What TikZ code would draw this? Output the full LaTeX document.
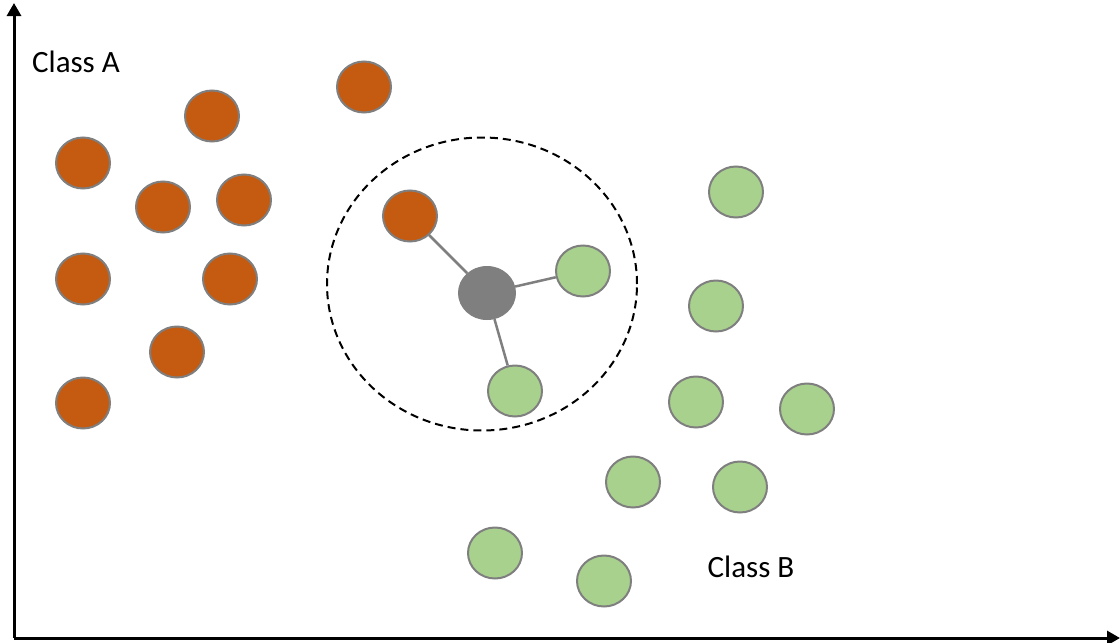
\documentclass[tikz,border=0pt]{standalone}
\usepackage{fontspec}
\setmainfont{Carlito}
\usetikzlibrary{arrows.meta,shapes.geometric}
\definecolor{clsA}{HTML}{C55A11}
\definecolor{clsB}{HTML}{A9D18E}
\definecolor{rim}{HTML}{7F7F7F}
\begin{document}
\begin{tikzpicture}[x=1pt,y=-1pt,
  pt/.style={ellipse,draw=rim,line width=2pt,minimum width=54pt,minimum height=51pt,inner sep=0pt},
  ptA/.style={pt,fill=clsA},
  ptB/.style={pt,fill=clsB},
  query/.style={ellipse,fill=rim,draw=rim,line width=1pt,minimum width=57pt,minimum height=53pt,inner sep=0pt},
  link/.style={draw=rim,line width=2.5pt},
  axis/.style={line width=3pt,-{Triangle[length=13pt,width=14pt]}},
  lbl/.style={font=\fontsize{31}{37}\selectfont,inner sep=0pt}]
\useasboundingbox (0,0) rectangle (1120,643);
% axes
\coordinate (o) at (14,638);
\coordinate (ytip) at (14,3);
\coordinate (xtip) at (1120,638);
\draw[axis] (o) -- (ytip);
\draw[axis] (o) -- (xtip);
% neighbourhood of the query point
\node[ellipse,draw,dashed,line width=2pt,dash pattern=on 8pt off 5pt,minimum width=310pt,minimum height=293pt] (hood) at (482,284) {};
% class A
\node[ptA] (a1) at (364,87) {};
\node[ptA] (a2) at (212,116) {};
\node[ptA] (a3) at (83,163) {};
\node[ptA] (a4) at (163,207) {};
\node[ptA] (a5) at (244,200) {};
\node[ptA] (a6) at (83,279) {};
\node[ptA] (a7) at (230,279) {};
\node[ptA] (a8) at (177,352) {};
\node[ptA] (a9) at (83,403) {};
\node[ptA] (a10) at (410,216) {};
% class B
\node[ptB] (b1) at (583,271) {};
\node[ptB] (b2) at (515,391) {};
\node[ptB] (b3) at (736,192) {};
\node[ptB] (b4) at (716,306) {};
\node[ptB] (b5) at (696,402) {};
\node[ptB] (b6) at (807,409) {};
\node[ptB] (b7) at (633,482) {};
\node[ptB] (b8) at (740,487) {};
\node[ptB] (b9) at (495,553) {};
\node[ptB] (b10) at (604,581) {};
% query point and its nearest neighbours
\node[query] (q) at (487,293) {};
\draw[link] (q) -- (a10);
\draw[link] (q) -- (b1);
\draw[link] (q) -- (b2);
% labels
\node[lbl] (la) at (76,62) {Class A};
\node[lbl] (lb) at (751,567) {Class B};
\end{tikzpicture}
\end{document}
